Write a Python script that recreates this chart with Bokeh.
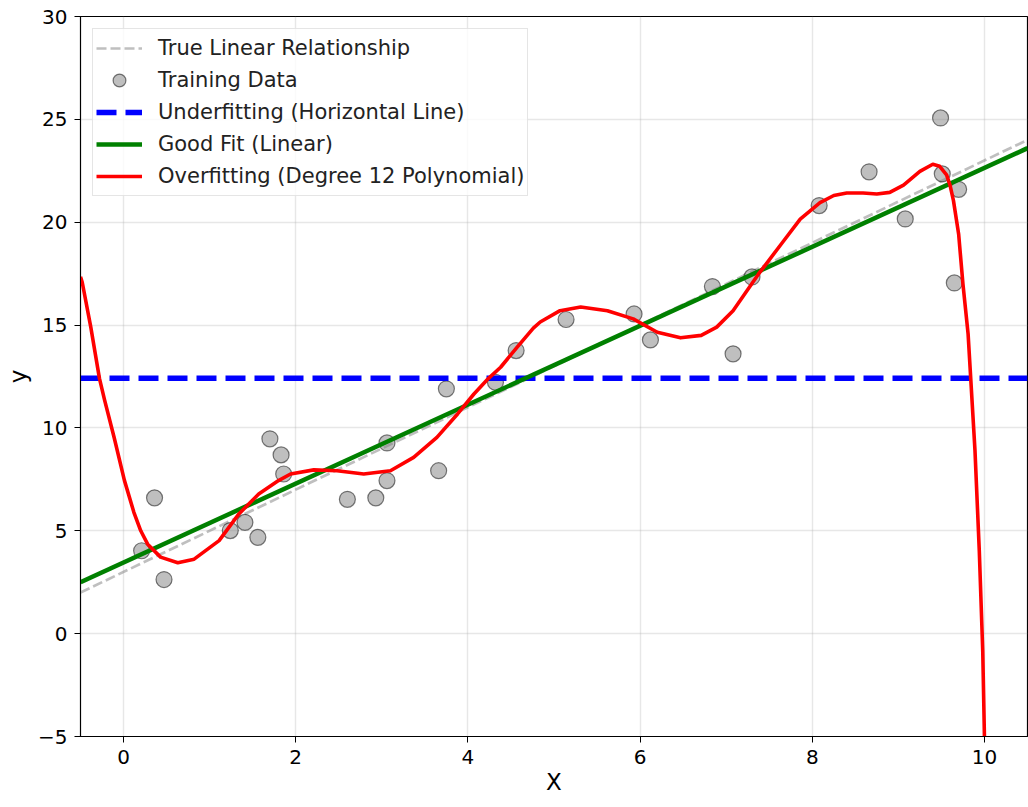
from bokeh.plotting import figure
from bokeh.models import Range1d, FixedTicker, Legend, LegendItem
from bokeh.embed import file_html
from bokeh.resources import INLINE

# ---- data ----
x_data = [0.21, 0.36, 0.47, 1.24, 1.41, 1.56, 1.70, 1.83, 1.86, 2.60,
          2.93, 3.06, 3.06, 3.66, 3.75, 4.32, 4.56, 5.14, 5.93, 6.12,
          6.84, 7.08, 7.30, 8.08, 8.66, 9.08, 9.49, 9.51, 9.70, 9.65]
y_data = [4.03, 6.60, 2.63, 5.01, 5.41, 4.68, 9.47, 8.69, 7.76, 6.53,
          6.60, 7.44, 9.27, 7.92, 11.90, 12.22, 13.76, 15.27, 15.54, 14.28,
          16.87, 13.60, 17.34, 20.81, 22.45, 20.16, 25.07, 22.35, 21.60, 17.05]

line_x = [-0.5, 10.5]
true_y = [2.0, 24.0]          # true relationship y = 2x + 3
good_y = [2.50, 23.60]        # linear fit
under_y = [12.41, 12.41]      # horizontal mean line

# degree-12 polynomial curve
red_x = [-0.50, -0.48, -0.38, -0.28, -0.22, -0.11, 0.01, 0.12, 0.20, 0.28,
         0.43, 0.63, 0.82, 1.11, 1.34, 1.57, 1.80, 1.94, 2.21, 2.48,
         2.79, 3.10, 3.37, 3.64, 3.88, 4.07, 4.24, 4.38, 4.57, 4.76,
         4.84, 5.07, 5.31, 5.62, 5.92, 6.20, 6.47, 6.71, 6.89, 7.08,
         7.37, 7.66, 7.86, 8.09, 8.25, 8.40, 8.59, 8.75, 8.90, 9.06,
         9.25, 9.40, 9.48, 9.56, 9.60, 9.64, 9.70, 9.75, 9.81, 9.89,
         9.94, 9.98, 10.00, 10.02]
red_y = [17.35, 17.08, 14.89, 12.41, 11.35, 9.55, 7.45, 5.90, 5.00, 4.35,
         3.72, 3.45, 3.62, 4.52, 5.82, 6.79, 7.44, 7.76, 7.96, 7.92,
         7.76, 7.92, 8.57, 9.54, 10.68, 11.65, 12.41, 12.95, 13.92, 14.85,
         15.15, 15.70, 15.88, 15.70, 15.30, 14.65, 14.38, 14.50, 14.90, 15.70,
         17.45, 19.05, 20.15, 20.95, 21.30, 21.42, 21.42, 21.37, 21.45, 21.80,
         22.47, 22.82, 22.72, 22.30, 21.80, 21.05, 19.43, 17.00, 14.57, 8.90,
         4.03, -0.83, -5.04, -9.0]

x_ticks = [0, 2, 4, 6, 8, 10]
y_ticks = [-5, 0, 5, 10, 15, 20, 25, 30]

FONT = "DejaVu Sans"

p = figure(width=1028, height=807, output_backend="svg", toolbar_location=None,
           x_range=Range1d(-0.5, 10.5), y_range=Range1d(-5, 30),
           min_border_left=80, min_border_right=1, min_border_top=16,
           min_border_bottom=71)
p.background_fill_color = "white"
p.border_fill_color = "white"
p.outline_line_color = "black"
p.outline_line_width = 1.2

for ax in (p.xaxis, p.yaxis):
    ax.major_label_text_font = FONT
    ax.major_label_text_font_size = "20px"
    ax.major_label_text_color = "black"
    ax.axis_label_text_font = FONT
    ax.axis_label_text_font_size = "23px"
    ax.axis_label_text_font_style = "normal"
    ax.axis_label_text_color = "black"
    ax.major_tick_out = 6
    ax.major_tick_in = 0
    ax.minor_tick_out = 0
    ax.minor_tick_in = 0
    ax.axis_line_color = "black"
    ax.major_tick_line_color = "black"
    ax.major_label_standoff = 7

p.xaxis.ticker = FixedTicker(ticks=x_ticks)
p.yaxis.ticker = FixedTicker(ticks=y_ticks)
p.yaxis.major_label_overrides = {-5: "\u22125"}
p.xaxis.axis_label = "X"
p.yaxis.axis_label = "y"
p.xaxis.axis_label_standoff = 2
p.yaxis.axis_label_standoff = 4

p.grid.grid_line_color = "#b0b0b0"
p.grid.grid_line_alpha = 0.3
p.grid.grid_line_width = 1.4
p.xgrid.ticker = FixedTicker(ticks=x_ticks)
p.ygrid.ticker = FixedTicker(ticks=y_ticks)

r_true = p.line(line_x, true_y, line_color="gray", line_alpha=0.5,
                line_width=2.7, line_dash="10 4")
r_data = p.scatter(x_data, y_data, size=16, fill_color="gray", fill_alpha=0.5,
                   line_color="black", line_alpha=0.5, line_width=1.2)
r_under = p.line(line_x, under_y, line_color="blue", line_width=5.5,
                 line_dash="20 9")
r_good = p.line(line_x, good_y, line_color="green", line_width=4.5)
r_over = p.line(red_x, red_y, line_color="red", line_width=3.6,
                line_join="round")

legend = Legend(items=[
    LegendItem(label="True Linear Relationship", renderers=[r_true]),
    LegendItem(label="Training Data", renderers=[r_data]),
    LegendItem(label="Underfitting (Horizontal Line)", renderers=[r_under]),
    LegendItem(label="Good Fit (Linear)", renderers=[r_good]),
    LegendItem(label="Overfitting (Degree 12 Polynomial)", renderers=[r_over]),
], location="top_left")
legend.margin = 12
legend.padding = 3
legend.spacing = 0
legend.glyph_width = 46
legend.glyph_height = 32
legend.label_height = 24
legend.label_standoff = 16
legend.label_text_font = FONT
legend.label_text_font_size = "21px"
legend.label_text_color = "#222222"
legend.border_line_color = "#cccccc"
legend.border_line_width = 1
legend.background_fill_color = "white"
legend.background_fill_alpha = 0.8
p.add_layout(legend)

open("out.html", "w").write(file_html(p, INLINE))
